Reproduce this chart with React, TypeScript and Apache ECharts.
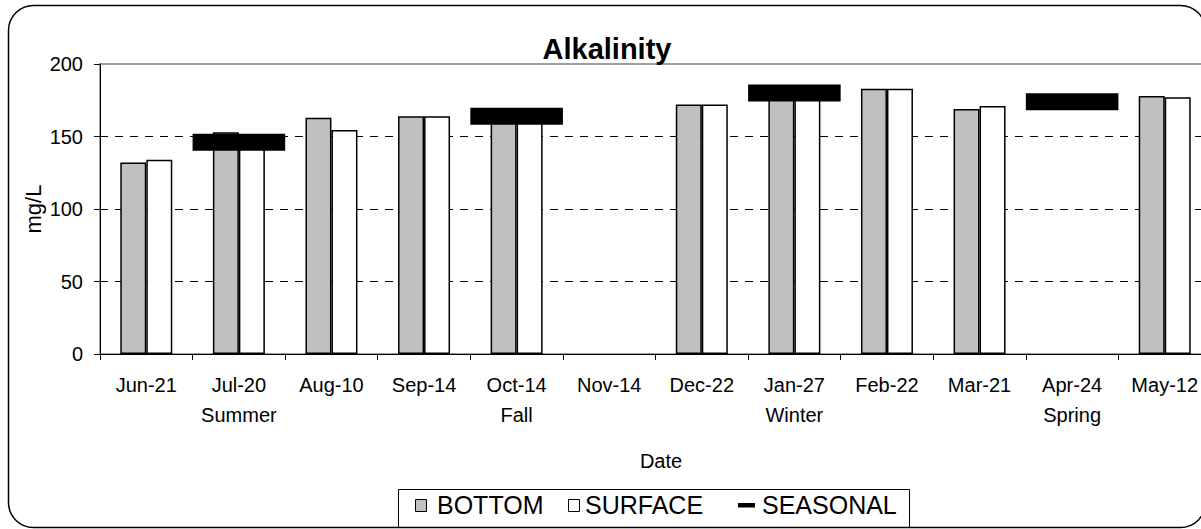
import React, { useEffect, useRef } from 'react';
import * as echarts from 'echarts';

const categories = ['Jun-21', 'Jul-20', 'Aug-10', 'Sep-14', 'Oct-14', 'Nov-14', 'Dec-22', 'Jan-27', 'Feb-22', 'Mar-21', 'Apr-24', 'May-12'];
const seasonNames = ['', 'Summer', '', '', 'Fall', '', '', 'Winter', '', '', 'Spring', ''];
const bottomValues = [132, 153, 163, 164, 165, null, 172, 181, 183, 169, null, 178];
const surfaceValues = [134, 147, 154.5, 164, 164, null, 172, 180, 183, 171, null, 177];
const seasonalValues = [null, 146, null, null, 164, null, null, 180, null, null, 174, null];
const yMin = 0;
const yMax = 200;
const yInterval = 50;

const FONT = '"Liberation Sans", Arial, Helvetica, sans-serif';

export default function App() {
  const ref = useRef<HTMLDivElement>(null);

  useEffect(() => {
    if (!ref.current) return;
    const chart = echarts.init(ref.current, null, { renderer: 'svg' });

    const seasonalData = seasonalValues
      .map((v, i) => (v == null ? null : [i, v]))
      .filter((d) => d !== null);

    const option: any = {
      animation: false,
      backgroundColor: '#ffffff',
      textStyle: { fontFamily: FONT, color: '#000' },
      grid: {
        left: 100,
        top: 64,
        width: 1111,
        height: 290,
        show: true,
        borderColor: '#808080',
        borderWidth: 1.5,
        backgroundColor: '#ffffff',
      },
      xAxis: {
        type: 'category',
        data: categories,
        axisLine: { show: true, lineStyle: { color: '#000', width: 1 } },
        axisTick: { show: true, length: 6, inside: false, lineStyle: { color: '#000' } },
        axisLabel: {
          interval: 0,
          fontSize: 20,
          lineHeight: 30,
          margin: 16,
          color: '#000',
          fontFamily: FONT,
          formatter: (value: string, index: number) =>
            seasonNames[index] ? value + '\n' + seasonNames[index] : value,
        },
        splitLine: { show: false },
      },
      yAxis: {
        type: 'value',
        min: yMin,
        max: yMax,
        interval: yInterval,
        axisLine: { show: true, lineStyle: { color: '#000', width: 1 } },
        axisTick: { show: true, length: 6, lineStyle: { color: '#000' } },
        axisLabel: { fontSize: 20, margin: 17, color: '#000', fontFamily: FONT },
        splitLine: {
          show: true,
          lineStyle: {
            color: ['rgba(0,0,0,0)', '#000', '#000', '#000', 'rgba(0,0,0,0)'],
            type: [8, 7],
            width: 1,
          },
        },
      },
      series: [
        {
          name: 'BOTTOM',
          type: 'bar',
          data: bottomValues,
          barWidth: 26,
          barGap: '0%',
          itemStyle: { color: '#c0c0c0', borderColor: '#000', borderWidth: 1.5 },
          z: 2,
        },
        {
          name: 'SURFACE',
          type: 'bar',
          data: surfaceValues,
          barWidth: 26,
          barGap: '0%',
          itemStyle: { color: '#ffffff', borderColor: '#000', borderWidth: 1.5 },
          z: 2,
        },
        {
          name: 'SEASONAL',
          type: 'custom',
          coordinateSystem: 'cartesian2d',
          data: seasonalData,
          encode: { x: 0, y: 1 },
          z: 5,
          renderItem: (params: any, api: any) => {
            const c = api.coord([api.value(0), api.value(1)]);
            const w = api.size([1, 0])[0];
            return {
              type: 'rect',
              shape: { x: c[0] - w / 2, y: c[1] - 8.5, width: w, height: 17 },
              style: { fill: '#000' },
            };
          },
        },
      ],
      graphic: [
        {
          type: 'rect',
          shape: { x: 8.5, y: 5.5, width: 1197, height: 522, r: 25 },
          style: { fill: 'none', stroke: '#000', lineWidth: 1.5 },
          z: 100,
          silent: true,
        },
        {
          type: 'text',
          x: 607,
          y: 49,
          style: {
            text: 'Alkalinity',
            font: 'bold 29px ' + FONT,
            fill: '#000',
            align: 'center',
            verticalAlign: 'middle',
          },
        },
        {
          type: 'text',
          x: 33,
          y: 209,
          rotation: Math.PI / 2,
          style: {
            text: 'mg/L',
            font: '22px ' + FONT,
            fill: '#000',
            align: 'center',
            verticalAlign: 'middle',
          },
        },
        {
          type: 'text',
          x: 661,
          y: 461,
          style: {
            text: 'Date',
            font: '20px ' + FONT,
            fill: '#000',
            align: 'center',
            verticalAlign: 'middle',
          },
        },
        {
          type: 'rect',
          shape: { x: 398.5, y: 489.5, width: 511, height: 38 },
          style: { fill: '#fff', stroke: '#000', lineWidth: 1 },
          z: 50,
        },
        {
          type: 'rect',
          shape: { x: 415.5, y: 499.5, width: 11, height: 12 },
          style: { fill: '#c0c0c0', stroke: '#000', lineWidth: 1 },
          z: 51,
        },
        {
          type: 'text',
          x: 437,
          y: 505,
          style: { text: 'BOTTOM', font: '25px ' + FONT, fill: '#000', verticalAlign: 'middle' },
          z: 51,
        },
        {
          type: 'rect',
          shape: { x: 568.5, y: 499.5, width: 11, height: 12 },
          style: { fill: '#fff', stroke: '#000', lineWidth: 1 },
          z: 51,
        },
        {
          type: 'text',
          x: 585,
          y: 505,
          style: { text: 'SURFACE', font: '25px ' + FONT, fill: '#000', verticalAlign: 'middle' },
          z: 51,
        },
        {
          type: 'rect',
          shape: { x: 738, y: 503, width: 17, height: 4.5 },
          style: { fill: '#000' },
          z: 51,
        },
        {
          type: 'text',
          x: 762,
          y: 505,
          style: { text: 'SEASONAL', font: '25px ' + FONT, fill: '#000', verticalAlign: 'middle' },
          z: 51,
        },
      ],
    };

    chart.setOption(option);
    return () => chart.dispose();
  }, []);

  return (
    <div
      style={{
        position: 'fixed',
        left: 0,
        top: 0,
        width: 1201,
        height: 529,
        overflow: 'hidden',
        background: '#fff',
      }}
    >
      <div ref={ref} style={{ width: 1230, height: 529 }} />
    </div>
  );
}
